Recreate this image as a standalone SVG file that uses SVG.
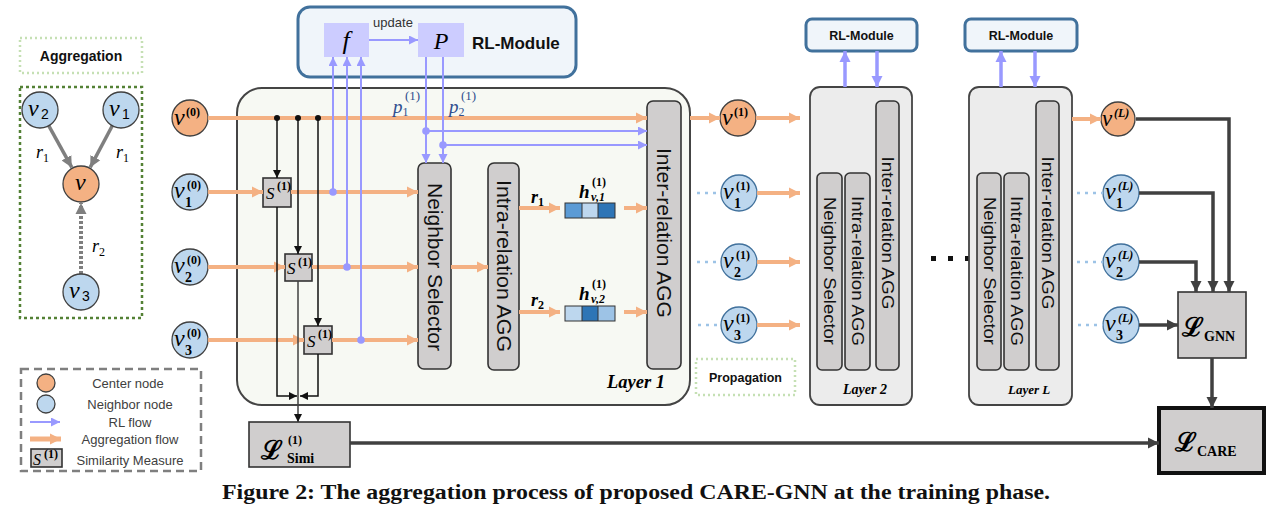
<svg xmlns="http://www.w3.org/2000/svg" width="1272" height="520" viewBox="0 0 1272 520">
<style>
.m{font-family:"Liberation Serif","DejaVu Serif",serif;font-style:italic}
.sup{font-family:"Liberation Serif","DejaVu Serif",serif;font-size:12px;font-weight:bold}
.sub{font-family:"Liberation Serif","DejaVu Serif",serif;font-size:14px;font-weight:bold}
.sans{font-family:"Liberation Sans",Arial,sans-serif}
.L{font-family:"DejaVu Serif",serif;font-size:26px;font-weight:bold}
.nO{fill:#f4b183;stroke:#404040;stroke-width:1.3}
.nB{fill:#bdd7ee;stroke:#404040;stroke-width:1.3}
.nB2{fill:#bdd7ee;stroke:#41719c;stroke-width:1.3}
.blk{fill:#d0cece;stroke:#333;stroke-width:1.6}
.or{stroke:#f4b183;stroke-width:4;fill:none}
.rl{stroke:#9999ff;stroke-width:2;fill:none}
.rlT{stroke:#9999ff;stroke-width:3.5;fill:none}
.bk{stroke:#111;stroke-width:1.5;fill:none}
.dk{stroke:#404040;stroke-width:3.5;fill:none}
.dot{stroke:#9dc3e6;stroke-width:2.5;stroke-dasharray:3 5;fill:none}
.rot{font-family:"Liberation Sans",Arial,sans-serif;fill:#111;text-anchor:middle;dominant-baseline:central}
.rlbox{fill:#f0f5fa;stroke:#41719c;stroke-width:3}
</style>
<defs>
<marker id="aO" markerUnits="userSpaceOnUse" markerWidth="12" markerHeight="12" refX="11" refY="6" orient="auto"><path d="M0,0.5 L11,6 L0,11.5z" fill="#f4b183"/></marker>
<marker id="aB" markerUnits="userSpaceOnUse" markerWidth="10" markerHeight="10" refX="9" refY="4.5" orient="auto"><path d="M0,0 L9,4.5 L0,9z" fill="#9999ff"/></marker>
<marker id="aBT" markerUnits="userSpaceOnUse" markerWidth="12" markerHeight="12" refX="11" refY="6" orient="auto"><path d="M0,0.5 L11,6 L0,11.5z" fill="#9999ff"/></marker>
<marker id="aK" markerUnits="userSpaceOnUse" markerWidth="9" markerHeight="9" refX="8" refY="4" orient="auto"><path d="M0,0 L8,4 L0,8z" fill="#111"/></marker>
<marker id="aD" markerUnits="userSpaceOnUse" markerWidth="12" markerHeight="12" refX="11" refY="6" orient="auto"><path d="M0,0.5 L11,6 L0,11.5z" fill="#404040"/></marker>
<marker id="aG" markerUnits="userSpaceOnUse" markerWidth="12" markerHeight="12" refX="11" refY="6" orient="auto"><path d="M0,0.5 L11,6 L0,11.5z" fill="#7f7f7f"/></marker>
</defs>
<rect width="1272" height="520" fill="#fff"/>

<!-- Aggregation panel -->
<g id="aggregation-title">
<rect x="20" y="38" width="122" height="35" fill="none" stroke="#c5e0b4" stroke-width="2.5" stroke-dasharray="2 3"/>
<text x="81" y="61" class="sans" font-size="14" font-weight="bold" text-anchor="middle" fill="#111">Aggregation</text>
</g>
<g id="aggregation-panel">
<rect x="20" y="87" width="122" height="231" fill="none" stroke="#538135" stroke-width="2.5" stroke-dasharray="3 3"/>
</g>
<g id="agg-edges">
<line x1="48.7" y1="125.7" x2="71.8" y2="167.4" stroke="#7f7f7f" stroke-width="3.5" marker-end="url(#aG)"/>
<line x1="112.3" y1="125.7" x2="90.2" y2="167.4" stroke="#7f7f7f" stroke-width="3.5" marker-end="url(#aG)"/>
<line x1="81" y1="274" x2="81" y2="203" stroke="#7f7f7f" stroke-width="4" stroke-dasharray="3 2" marker-end="url(#aG)"/>
<text class="m" x="36" y="158" font-size="18">r<tspan font-size="12" font-style="normal" dy="4">1</tspan></text>
<text class="m" x="116" y="158" font-size="18">r<tspan font-size="12" font-style="normal" dy="4">1</tspan></text>
<text class="m" x="92" y="252" font-size="18">r<tspan font-size="12" font-style="normal" dy="4">2</tspan></text>
</g>
<g id="agg-v2" transform="translate(40,110)"><circle r="18" class="nB"/><text class="m" x="-12" y="6" font-size="24">v</text><text x="1" y="9" font-size="14" class="sans">2</text></g>
<g id="agg-v1" transform="translate(121,110)"><circle r="18" class="nB"/><text class="m" x="-12" y="6" font-size="24">v</text><text x="1" y="9" font-size="14" class="sans">1</text></g>
<g id="agg-v" transform="translate(81,184)"><circle r="18" class="nO"/><text class="m" x="-6" y="6" font-size="24">v</text></g>
<g id="agg-v3" transform="translate(81,292)"><circle r="18" class="nB"/><text class="m" x="-12" y="6" font-size="24">v</text><text x="1" y="9" font-size="14" class="sans">3</text></g>

<!-- Legend -->
<g id="legend">
<rect x="21" y="369" width="180" height="102" fill="none" stroke="#7f7f7f" stroke-width="2.5" stroke-dasharray="8 5"/>
<circle cx="46" cy="383" r="9" class="nO"/>
<circle cx="46" cy="404" r="9" class="nB"/>
<line x1="30" y1="422" x2="60" y2="422" class="rl" marker-end="url(#aB)"/>
<line x1="30" y1="439" x2="61" y2="439" stroke="#f4b183" stroke-width="5" marker-end="url(#aO)"/>
<rect x="31" y="449" width="31" height="18" class="blk" stroke-width="1.2"/>
<text class="m" x="33" y="465" font-size="16">S</text><text class="sup" x="44" y="458" font-size="9">(1)</text>
<g class="sans" font-size="13" fill="#404040" text-anchor="middle">
<text x="128" y="388">Center node</text>
<text x="130" y="409">Neighbor node</text>
<text x="130" y="427">RL flow</text>
<text x="130" y="444">Aggregation flow</text>
<text x="130" y="465">Similarity Measure</text>
</g>
</g>

<!-- RL module main -->
<g id="rl-module-1">
<rect x="298" y="7" width="278" height="70" rx="12" class="rlbox"/>
<text x="472" y="49" class="sans" font-size="17" font-weight="bold" fill="#111">RL-Module</text>
</g>
<g id="rl-f"><rect x="324" y="23" width="45" height="34" fill="#ccccff"/><text class="m" x="346" y="49" font-size="26" text-anchor="middle">f</text></g>
<g id="rl-P"><rect x="418" y="23" width="46" height="34" fill="#ccccff"/><text class="m" x="441" y="49" font-size="24" text-anchor="middle">P</text></g>

<!-- Layer 1 -->
<g id="layer1">
<rect x="237" y="88" width="453" height="317" rx="25" fill="#f7f9f3" stroke="#444" stroke-width="2"/>
<text x="607" y="388" class="m" font-size="18.5" font-weight="bold">Layer 1</text>
</g>
<g id="s1"><rect x="263" y="178" width="28" height="29" class="blk"/><text class="m" x="266" y="199" font-size="17">S</text><text class="sup" x="277" y="190" font-size="9">(1)</text></g>
<g id="s2"><rect x="285" y="254" width="27" height="27" class="blk"/><text class="m" x="287" y="274" font-size="17">S</text><text class="sup" x="298" y="266" font-size="9">(1)</text></g>
<g id="s3"><rect x="304" y="326" width="28" height="28" class="blk"/><text class="m" x="307" y="347" font-size="17">S</text><text class="sup" x="318" y="338" font-size="9">(1)</text></g>
<g id="neighbor-selector-1"><rect x="418" y="163" width="33" height="206" rx="6" class="blk"/><text class="rot" font-size="20" textLength="168" lengthAdjust="spacingAndGlyphs" transform="translate(434.5,267) rotate(90)">Neighbor Selector</text></g>
<g id="intra-agg-1"><rect x="488" y="163" width="31" height="207" rx="6" class="blk"/><text class="rot" font-size="20" textLength="172" lengthAdjust="spacingAndGlyphs" transform="translate(503.5,266) rotate(90)">Intra-relation AGG</text></g>
<g id="inter-agg-1"><rect x="647" y="101" width="34" height="268" rx="6" class="blk"/><text class="rot" font-size="20" textLength="170" lengthAdjust="spacingAndGlyphs" transform="translate(664,233) rotate(90)">Inter-relation AGG</text></g>
<g id="h1">
<rect x="565" y="203" width="17" height="15" fill="#5b9bd5"/><rect x="582" y="203" width="16" height="15" fill="#bdd7ee"/><rect x="598" y="203" width="17" height="15" fill="#2e75b6"/>
<rect x="565" y="203" width="50" height="15" fill="none" stroke="#333" stroke-width="1"/>
<line x1="582" y1="203" x2="582" y2="218" stroke="#333" stroke-width="1"/><line x1="598" y1="203" x2="598" y2="218" stroke="#333" stroke-width="1"/>
<text class="m" x="579" y="198" font-size="19" font-weight="bold">h</text><text class="sup" x="592" y="186" font-size="12">(1)</text><text class="m" x="591" y="201" font-size="12" font-weight="bold">v,1</text>
</g>
<g id="h2">
<rect x="565" y="306" width="17" height="15" fill="#bdd7ee"/><rect x="582" y="306" width="16" height="15" fill="#2e75b6"/><rect x="598" y="306" width="17" height="15" fill="#9dc3e6"/>
<rect x="565" y="306" width="50" height="15" fill="none" stroke="#333" stroke-width="1"/>
<line x1="582" y1="306" x2="582" y2="321" stroke="#333" stroke-width="1"/><line x1="598" y1="306" x2="598" y2="321" stroke="#333" stroke-width="1"/>
<text class="m" x="579" y="300" font-size="19" font-weight="bold">h</text><text class="sup" x="592" y="288" font-size="12">(1)</text><text class="m" x="591" y="303" font-size="12" font-weight="bold">v,2</text>
</g>
<g id="propagation"><rect x="696" y="359" width="99" height="36" fill="none" stroke="#c5e0b4" stroke-width="2.5" stroke-dasharray="2 3"/><text x="745.5" y="382" class="sans" font-size="12.5" font-weight="bold" text-anchor="middle" fill="#111">Propagation</text></g>

<!-- input nodes -->
<g id="v0" transform="translate(190,118)"><circle r="18" class="nO"/><text class="m" x="-16" y="7" font-size="24">v</text><text class="sup" x="-4" y="-2">(0)</text></g>
<g id="v1-0" transform="translate(190,192)"><circle r="18" class="nB"/><text class="m" x="-16" y="6" font-size="24">v</text><text class="sup" x="-3" y="-3">(0)</text><text class="sub" x="-5" y="15">1</text></g>
<g id="v2-0" transform="translate(190,267)"><circle r="18" class="nB"/><text class="m" x="-16" y="6" font-size="24">v</text><text class="sup" x="-3" y="-3">(0)</text><text class="sub" x="-5" y="15">2</text></g>
<g id="v3-0" transform="translate(190,340)"><circle r="18" class="nB"/><text class="m" x="-16" y="6" font-size="24">v</text><text class="sup" x="-3" y="-3">(0)</text><text class="sub" x="-5" y="15">3</text></g>

<!-- layer1 outputs -->
<g id="v-1" transform="translate(738,118)"><circle r="18" class="nO"/><text class="m" x="-16" y="7" font-size="24">v</text><text class="sup" x="-4" y="-2">(1)</text></g>
<g id="v1-1" transform="translate(739,193)"><circle r="18" class="nB2"/><text class="m" x="-16" y="6" font-size="24">v</text><text class="sup" x="-3" y="-3">(1)</text><text class="sub" x="-5" y="15">1</text></g>
<g id="v2-1" transform="translate(739,262)"><circle r="18" class="nB2"/><text class="m" x="-16" y="6" font-size="24">v</text><text class="sup" x="-3" y="-3">(1)</text><text class="sub" x="-5" y="15">2</text></g>
<g id="v3-1" transform="translate(739,325)"><circle r="18" class="nB2"/><text class="m" x="-16" y="6" font-size="24">v</text><text class="sup" x="-3" y="-3">(1)</text><text class="sub" x="-5" y="15">3</text></g>

<!-- Layer 2 -->
<g id="layer2">
<rect x="810" y="87" width="102" height="318" rx="10" fill="#ececec" stroke="#444" stroke-width="1.8"/>
<rect x="817" y="173" width="25" height="197" rx="5" class="blk"/><text class="rot" font-size="17" textLength="148" lengthAdjust="spacingAndGlyphs" transform="translate(829.5,271) rotate(90)">Neighbor Selector</text>
<rect x="845" y="173" width="25" height="197" rx="5" class="blk"/><text class="rot" font-size="17" textLength="150" lengthAdjust="spacingAndGlyphs" transform="translate(857.5,271) rotate(90)">Intra-relation AGG</text>
<rect x="876" y="101" width="23" height="269" rx="5" class="blk"/><text class="rot" font-size="17" textLength="153" lengthAdjust="spacingAndGlyphs" transform="translate(887.5,233) rotate(90)">Inter-relation AGG</text>
<text x="843" y="394" class="m" font-size="14" font-weight="bold">Layer 2</text>
</g>
<g id="rl-module-2"><rect x="806" y="19" width="111" height="32" rx="6" class="rlbox"/><text x="861.5" y="40" class="sans" font-size="12.5" font-weight="bold" text-anchor="middle" fill="#111">RL-Module</text></g>
<g id="ellipsis"><rect x="931" y="256" width="5" height="5" fill="#111"/><rect x="948" y="256" width="5" height="5" fill="#111"/><rect x="965" y="256" width="5" height="5" fill="#111"/></g>

<!-- Layer L -->
<g id="layerL">
<rect x="969" y="87" width="103" height="318" rx="10" fill="#ececec" stroke="#444" stroke-width="1.8"/>
<rect x="977" y="173" width="24" height="197" rx="5" class="blk"/><text class="rot" font-size="17" textLength="148" lengthAdjust="spacingAndGlyphs" transform="translate(989,271) rotate(90)">Neighbor Selector</text>
<rect x="1004" y="173" width="25" height="197" rx="5" class="blk"/><text class="rot" font-size="17" textLength="150" lengthAdjust="spacingAndGlyphs" transform="translate(1016.5,271) rotate(90)">Intra-relation AGG</text>
<rect x="1036" y="101" width="23" height="269" rx="5" class="blk"/><text class="rot" font-size="17" textLength="153" lengthAdjust="spacingAndGlyphs" transform="translate(1047.5,233) rotate(90)">Inter-relation AGG</text>
<text x="1008" y="394" class="m" font-size="13" font-weight="bold">Layer L</text>
</g>
<g id="rl-module-L"><rect x="965" y="19" width="112" height="32" rx="6" class="rlbox"/><text x="1021" y="40" class="sans" font-size="12.5" font-weight="bold" text-anchor="middle" fill="#111">RL-Module</text></g>

<!-- Layer L outputs -->
<g id="v-L" transform="translate(1118,119)"><circle r="17" class="nO"/><text class="m" x="-16" y="7" font-size="23">v</text><text class="sup" x="-4" y="-2"><tspan font-style="italic">(L)</tspan></text></g>
<g id="v1-L" transform="translate(1121,193)"><circle r="18" class="nB2"/><text class="m" x="-16" y="6" font-size="24">v</text><text class="sup m" x="-3" y="-3" font-style="italic">(L)</text><text class="sub" x="-5" y="15">1</text></g>
<g id="v2-L" transform="translate(1121,262)"><circle r="18" class="nB2"/><text class="m" x="-16" y="6" font-size="24">v</text><text class="sup m" x="-3" y="-3" font-style="italic">(L)</text><text class="sub" x="-5" y="15">2</text></g>
<g id="v3-L" transform="translate(1121,325)"><circle r="18" class="nB2"/><text class="m" x="-16" y="6" font-size="24">v</text><text class="sup m" x="-3" y="-3" font-style="italic">(L)</text><text class="sub" x="-5" y="15">3</text></g>

<!-- Losses -->
<g id="loss-simi"><rect x="249" y="422" width="101" height="45" class="blk"/><text x="261" y="459" class="L">ℒ</text><text class="sup" x="288" y="444" font-size="15">(1)</text><text class="sub" x="287" y="463" font-size="15">Simi</text></g>
<g id="loss-gnn"><rect x="1178" y="292" width="68" height="66" class="blk"/><text x="1182" y="336" class="L">ℒ</text><text class="sub" x="1204" y="341" font-size="15">GNN</text></g>
<g id="loss-care"><rect x="1159" y="408" width="105" height="65" fill="#d0cece" stroke="#111" stroke-width="4"/><text x="1175" y="451" class="L">ℒ</text><text class="sub" x="1197" y="456" font-size="15">CARE</text></g>

<!-- Connectors -->
<g id="connectors">
<line x1="208" y1="118" x2="647" y2="118" class="or" marker-end="url(#aO)"/>
<line x1="208" y1="192" x2="263" y2="192" class="or" marker-end="url(#aO)"/>
<line x1="291" y1="192" x2="418" y2="192" class="or" marker-end="url(#aO)"/>
<line x1="208" y1="267" x2="285" y2="267" class="or" marker-end="url(#aO)"/>
<line x1="312" y1="267" x2="418" y2="267" class="or" marker-end="url(#aO)"/>
<line x1="208" y1="340" x2="304" y2="340" class="or" marker-end="url(#aO)"/>
<line x1="332" y1="340" x2="418" y2="340" class="or" marker-end="url(#aO)"/>
<line x1="451" y1="267" x2="488" y2="267" class="or" marker-end="url(#aO)"/>
<line x1="519" y1="208" x2="560" y2="208" class="or" marker-end="url(#aO)"/>
<line x1="624" y1="208" x2="647" y2="208" class="or" marker-end="url(#aO)"/>
<line x1="519" y1="312" x2="560" y2="312" class="or" marker-end="url(#aO)"/>
<line x1="624" y1="312" x2="647" y2="312" class="or" marker-end="url(#aO)"/>
<line x1="690" y1="118" x2="720" y2="118" class="or" marker-end="url(#aO)"/>
<line x1="756" y1="118" x2="800" y2="118" class="or" marker-end="url(#aO)"/>
<line x1="757" y1="193" x2="800" y2="193" class="or" marker-end="url(#aO)"/>
<line x1="757" y1="262" x2="800" y2="262" class="or" marker-end="url(#aO)"/>
<line x1="757" y1="325" x2="800" y2="325" class="or" marker-end="url(#aO)"/>
<line x1="1072" y1="119" x2="1101" y2="119" class="or" stroke-width="3" marker-end="url(#aO)"/>
<text class="m" x="531" y="203" font-size="18" font-weight="bold">r<tspan font-size="12" font-style="normal" dy="3">1</tspan></text>
<text class="m" x="531" y="306" font-size="18" font-weight="bold">r<tspan font-size="12" font-style="normal" dy="3">2</tspan></text>
<line x1="697" y1="193" x2="720" y2="193" class="dot"/>
<line x1="697" y1="262" x2="720" y2="262" class="dot"/>
<line x1="698" y1="325" x2="720" y2="325" class="dot"/>
<line x1="1077" y1="193" x2="1103" y2="193" class="dot"/>
<line x1="1077" y1="262" x2="1103" y2="262" class="dot"/>
<line x1="1078" y1="325" x2="1103" y2="325" class="dot"/>
<line x1="333" y1="192" x2="333" y2="57" class="rl" marker-end="url(#aB)"/>
<line x1="347" y1="267" x2="347" y2="57" class="rl" marker-end="url(#aB)"/>
<line x1="361" y1="340" x2="361" y2="57" class="rl" marker-end="url(#aB)"/>
<circle cx="333" cy="192" r="3.8" fill="#9999ff"/>
<circle cx="347" cy="267" r="3.8" fill="#9999ff"/>
<circle cx="361" cy="340" r="3.8" fill="#9999ff"/>
<line x1="369" y1="40" x2="418" y2="40" class="rl" marker-end="url(#aB)"/>
<text x="393" y="27" class="sans" font-size="13" text-anchor="middle" fill="#333">update</text>
<line x1="426" y1="57" x2="426" y2="163" class="rl" marker-end="url(#aB)"/>
<line x1="443" y1="57" x2="443" y2="163" class="rl" marker-end="url(#aB)"/>
<line x1="426" y1="131" x2="647" y2="131" class="rl" marker-end="url(#aB)"/>
<line x1="443" y1="145" x2="647" y2="145" class="rl" marker-end="url(#aB)"/>
<circle cx="426" cy="131" r="3.8" fill="#9999ff"/>
<circle cx="443" cy="145" r="3.8" fill="#9999ff"/>
<text class="m" x="393" y="113" font-size="19" fill="#2f4f8f">p<tspan font-size="12" font-style="normal" dy="3">1</tspan></text>
<text x="405" y="100" font-family="'Liberation Serif',serif" font-size="13" fill="#2f4f8f">(1)</text>
<text class="m" x="449" y="113" font-size="19" fill="#2f4f8f">p<tspan font-size="12" font-style="normal" dy="3">2</tspan></text>
<text x="461" y="100" font-family="'Liberation Serif',serif" font-size="13" fill="#2f4f8f">(1)</text>
<line x1="845" y1="87" x2="845" y2="51" class="rlT" marker-end="url(#aBT)"/>
<line x1="877" y1="51" x2="877" y2="87" class="rlT" marker-end="url(#aBT)"/>
<line x1="1001" y1="87" x2="1001" y2="51" class="rlT" marker-end="url(#aBT)"/>
<line x1="1035" y1="51" x2="1035" y2="87" class="rlT" marker-end="url(#aBT)"/>
<circle cx="277" cy="118" r="3" fill="#111"/>
<circle cx="298" cy="118" r="3" fill="#111"/>
<circle cx="318" cy="118" r="3" fill="#111"/>
<line x1="277" y1="118" x2="277" y2="178" class="bk" marker-end="url(#aK)"/>
<line x1="298" y1="118" x2="298" y2="254" class="bk" marker-end="url(#aK)"/>
<line x1="318" y1="118" x2="318" y2="326" class="bk" marker-end="url(#aK)"/>
<path d="M277,207 V396 H297" class="bk" marker-end="url(#aK)"/>
<path d="M318,354 V396 H300" class="bk" marker-end="url(#aK)"/>
<line x1="298" y1="281" x2="298" y2="422" stroke="#404040" stroke-width="1.5" marker-end="url(#aK)"/>
<path d="M1136,119 H1229 V292" class="dk" marker-end="url(#aD)"/>
<path d="M1139,193 H1213 V292" class="dk" marker-end="url(#aD)"/>
<path d="M1139,262 H1196 V292" class="dk" marker-end="url(#aD)"/>
<line x1="1139" y1="325" x2="1178" y2="325" class="dk" marker-end="url(#aD)"/>
<line x1="1212" y1="358" x2="1212" y2="408" class="dk" marker-end="url(#aD)"/>
<line x1="350" y1="443" x2="1159" y2="443" class="dk" stroke-width="4" marker-end="url(#aD)"/>
</g>

<text id="caption" x="222" y="499" font-family="'Liberation Serif',serif" font-weight="bold" font-size="20" textLength="828" lengthAdjust="spacingAndGlyphs" fill="#111">Figure 2: The aggregation process of proposed CARE-GNN at the training phase.</text>
</svg>
